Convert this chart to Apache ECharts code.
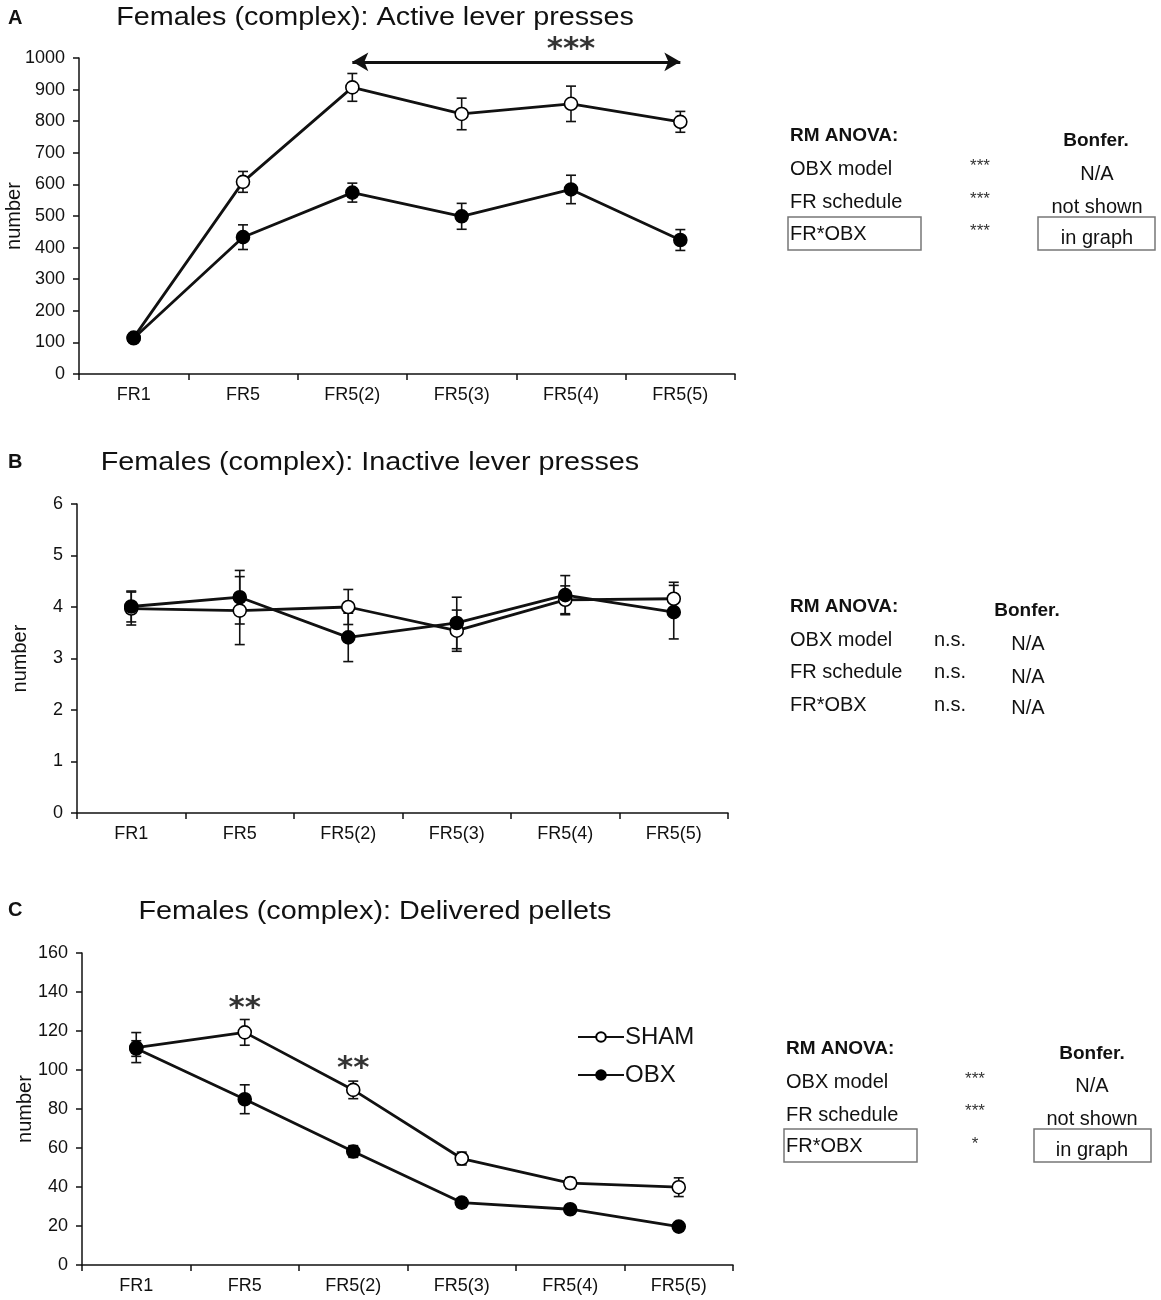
<!DOCTYPE html>
<html>
<head>
<meta charset="utf-8">
<script src="https://cdn.jsdelivr.net/npm/echarts@6/dist/echarts.min.js"></script>
<style>
html,body{margin:0;padding:0;background:#fff;}
#chart{width:1161px;height:1300px;}
</style>
</head>
<body>
<div id="chart"></div>
<script>
const categories = ['FR1', 'FR5', 'FR5(2)', 'FR5(3)', 'FR5(4)', 'FR5(5)'];

const activeSham = [115, 608, 907, 823, 855, 798];
const activeShamErr = [8, 33, 44, 50, 56, 33];
const activeObx = [113, 433, 574, 499, 584, 424];
const activeObxErr = [8, 39, 30, 41, 45, 33];

const inactiveSham = [3.97, 3.93, 4.00, 3.54, 4.14, 4.16];
const inactiveShamErr = [0.32, 0.66, 0.34, 0.40, 0.27, 0.32];
const inactiveObx = [4.01, 4.19, 3.41, 3.69, 4.23, 3.90];
const inactiveObxErr = [0.30, 0.52, 0.47, 0.50, 0.38, 0.52];

const pelletsSham = [111.5, 119.3, 89.8, 54.6, 42.0, 39.9];
const pelletsShamErr = [7.7, 6.6, 4.5, 3.3, 2.8, 4.8];
const pelletsObx = [111.0, 85.0, 58.2, 32.0, 28.6, 19.7];
const pelletsObxErr = [4, 7.4, 3, 2.4, 1.5, 1.5];

const yTicksA = {min: 0, max: 1000, interval: 100};
const yTicksB = {min: 0, max: 6, interval: 1};
const yTicksC = {min: 0, max: 160, interval: 20};

const arrowA = {from: 'FR5(2)', to: 'FR5(5)', level: 988};
const sigA = [['FR5(4)', 988, '***']];
const sigC = [['FR5', 131.5, '**'], ['FR5(2)', 100.5, '**']];

const titles = [
  'Females (complex): Active lever presses',
  'Females (complex): Inactive lever presses',
  'Females (complex): Delivered pellets'
];

const FONT = '"Liberation Sans", Arial, sans-serif';

function errSeries(values, errs, idx) {
  return {
    type: 'custom', xAxisIndex: idx, yAxisIndex: idx, z: 2, silent: true,
    encode: {x: 0, y: [1, 2]},
    data: values.map((v, i) => [i, v - errs[i], v + errs[i]]),
    renderItem: function (params, api) {
      const lo = api.coord([api.value(0), api.value(1)]);
      const hi = api.coord([api.value(0), api.value(2)]);
      const w = 5;
      const st = {stroke: '#111', lineWidth: 1.6};
      return {type: 'group', children: [
        {type: 'line', shape: {x1: lo[0], y1: lo[1], x2: hi[0], y2: hi[1]}, style: st},
        {type: 'line', shape: {x1: lo[0] - w, y1: lo[1], x2: lo[0] + w, y2: lo[1]}, style: st},
        {type: 'line', shape: {x1: hi[0] - w, y1: hi[1], x2: hi[0] + w, y2: hi[1]}, style: st}
      ]};
    }
  };
}

function lineSeries(name, values, idx, filled, extra) {
  return Object.assign({
    name: name, type: 'line', xAxisIndex: idx, yAxisIndex: idx, z: filled ? 4 : 3,
    data: values, symbol: 'circle', symbolSize: 13,
    lineStyle: {color: '#111', width: 2.8},
    itemStyle: {color: filled ? '#000' : '#fff', borderColor: '#000', borderWidth: 1.6},
    emphasis: {disabled: true}, animation: false
  }, extra || {});
}

function sigSeries(items, idx, pos) {
  return {
    type: 'scatter', xAxisIndex: idx, yAxisIndex: idx, symbolSize: 0, z: 5, silent: true,
    clip: false,
    data: items.map(d => ({value: [d[0], d[1]], label: {formatter: d[2]}})),
    label: {show: true, position: pos, distance: -4, color: '#000', fontSize: 31,
      fontWeight: 'bold', fontFamily: '"DejaVu Sans", sans-serif'}
  };
}

function xAxis(idx) {
  return {
    type: 'category', gridIndex: idx, data: categories, boundaryGap: true,
    axisLine: {show: true, lineStyle: {color: '#111', width: 1.5}},
    axisTick: {show: true, length: 6, lineStyle: {color: '#111', width: 1.5}},
    axisLabel: {color: '#111', fontSize: 18, fontFamily: FONT, margin: 12}
  };
}

function yAxis(idx, t, gap) {
  return {
    type: 'value', gridIndex: idx, min: t.min, max: t.max, interval: t.interval,
    name: 'number', nameLocation: 'middle', nameRotate: 90, nameGap: gap,
    nameMoveOverlap: false,
    nameTextStyle: {color: '#111', fontSize: 20, fontFamily: FONT},
    splitLine: {show: false},
    axisLine: {show: true, lineStyle: {color: '#111', width: 1.5}},
    axisTick: {show: true, length: 6, lineStyle: {color: '#111', width: 1.5}},
    axisLabel: {color: '#111', fontSize: 18, fontFamily: FONT, margin: 14,
      formatter: v => String(v)}
  };
}

function txt(x, y, text, opts) {
  opts = opts || {};
  return {
    type: 'text', x: x, y: y, scaleX: opts.scaleX || 1, silent: true,
    style: {
      text: text,
      font: (opts.bold ? 'bold ' : '') + (opts.size || 20) + 'px ' + FONT,
      fill: opts.color || '#111',
      textAlign: opts.align || 'left',
      textVerticalAlign: 'middle'
    }
  };
}
function box(x, y, w, h) {
  return {type: 'rect', silent: true, shape: {x: x, y: y, width: w, height: h},
    style: {fill: null, stroke: '#777', lineWidth: 1.5}};
}

const graphics = [
  txt(8, 18, 'A', {bold: true, size: 20}),
  txt(375, 18, titles[0], {size: 25, align: 'center', scaleX: 1.15}),
  txt(8, 462, 'B', {bold: true, size: 20}),
  txt(370, 463, titles[1], {size: 25, align: 'center', scaleX: 1.15}),
  txt(8, 910, 'C', {bold: true, size: 20}),
  txt(375, 912, titles[2], {size: 25, align: 'center', scaleX: 1.15}),

  // Panel A stats
  txt(790, 136, 'RM ANOVA:', {bold: true, size: 19}),
  txt(1096, 141, 'Bonfer.', {bold: true, size: 19, align: 'center'}),
  txt(790, 169, 'OBX model', {size: 20}),
  txt(980, 166, '***', {size: 17, align: 'center', color: '#333'}),
  txt(1097, 174, 'N/A', {size: 20, align: 'center'}),
  txt(790, 202, 'FR schedule', {size: 20}),
  txt(980, 199, '***', {size: 17, align: 'center', color: '#333'}),
  txt(1097, 207, 'not shown', {size: 20, align: 'center'}),
  box(788, 217, 133, 33),
  txt(790, 234, 'FR*OBX', {size: 20}),
  txt(980, 231, '***', {size: 17, align: 'center', color: '#333'}),
  box(1038, 217, 117, 33),
  txt(1097, 238, 'in graph', {size: 20, align: 'center'}),

  // Panel B stats
  txt(790, 607, 'RM ANOVA:', {bold: true, size: 19}),
  txt(1027, 611, 'Bonfer.', {bold: true, size: 19, align: 'center'}),
  txt(790, 640, 'OBX model', {size: 20}),
  txt(950, 640, 'n.s.', {size: 20, align: 'center'}),
  txt(1028, 644, 'N/A', {size: 20, align: 'center'}),
  txt(790, 672, 'FR schedule', {size: 20}),
  txt(950, 672, 'n.s.', {size: 20, align: 'center'}),
  txt(1028, 677, 'N/A', {size: 20, align: 'center'}),
  txt(790, 705, 'FR*OBX', {size: 20}),
  txt(950, 705, 'n.s.', {size: 20, align: 'center'}),
  txt(1028, 708, 'N/A', {size: 20, align: 'center'}),

  // Panel C stats
  txt(786, 1049, 'RM ANOVA:', {bold: true, size: 19}),
  txt(1092, 1054, 'Bonfer.', {bold: true, size: 19, align: 'center'}),
  txt(786, 1082, 'OBX model', {size: 20}),
  txt(975, 1079, '***', {size: 17, align: 'center', color: '#333'}),
  txt(1092, 1086, 'N/A', {size: 20, align: 'center'}),
  txt(786, 1115, 'FR schedule', {size: 20}),
  txt(975, 1111, '***', {size: 17, align: 'center', color: '#333'}),
  txt(1092, 1119, 'not shown', {size: 20, align: 'center'}),
  box(784, 1129, 133, 33),
  txt(786, 1146, 'FR*OBX', {size: 20}),
  txt(975, 1144, '*', {size: 17, align: 'center', color: '#333'}),
  box(1034, 1129, 117, 33),
  txt(1092, 1150, 'in graph', {size: 20, align: 'center'})
];

const chart = echarts.init(document.getElementById('chart'), null, {renderer: 'canvas'});
chart.setOption({
  backgroundColor: '#fff',
  animation: false,
  grid: [
    {left: 79, top: 58, width: 656, height: 316, containLabel: false, outerBoundsMode: 'none'},
    {left: 77, top: 504, width: 651, height: 309, containLabel: false, outerBoundsMode: 'none'},
    {left: 82, top: 953, width: 651, height: 312, containLabel: false, outerBoundsMode: 'none'}
  ],
  xAxis: [xAxis(0), xAxis(1), xAxis(2)],
  yAxis: [yAxis(0, yTicksA, 55), yAxis(1, yTicksB, 47), yAxis(2, yTicksC, 47)],
  legend: {
    data: ['SHAM', 'OBX'], orient: 'vertical', left: 572, top: 1020,
    itemWidth: 46, itemHeight: 12, itemGap: 14,
    textStyle: {color: '#111', fontSize: 24, fontFamily: FONT, padding: [0, 0, 0, -4]},
    selectedMode: false
  },
  graphic: graphics,
  series: [
    errSeries(activeSham, activeShamErr, 0),
    errSeries(activeObx, activeObxErr, 0),
    lineSeries('SHAM', activeSham, 0, false, {
      markLine: {
        silent: true, symbol: ['arrow', 'arrow'], symbolSize: [14, 16],
        label: {show: false},
        lineStyle: {color: '#111', width: 3, type: 'solid'},
        data: [[{coord: [arrowA.from, arrowA.level]}, {coord: [arrowA.to, arrowA.level]}]]
      }
    }),
    lineSeries('OBX', activeObx, 0, true),
    sigSeries(sigA, 0, 'top'),

    errSeries(inactiveSham, inactiveShamErr, 1),
    errSeries(inactiveObx, inactiveObxErr, 1),
    lineSeries('SHAM', inactiveSham, 1, false),
    lineSeries('OBX', inactiveObx, 1, true),

    errSeries(pelletsSham, pelletsShamErr, 2),
    errSeries(pelletsObx, pelletsObxErr, 2),
    lineSeries('SHAM', pelletsSham, 2, false),
    lineSeries('OBX', pelletsObx, 2, true),
    sigSeries(sigC, 2, 'inside')
  ]
});
</script>
</body>
</html>
